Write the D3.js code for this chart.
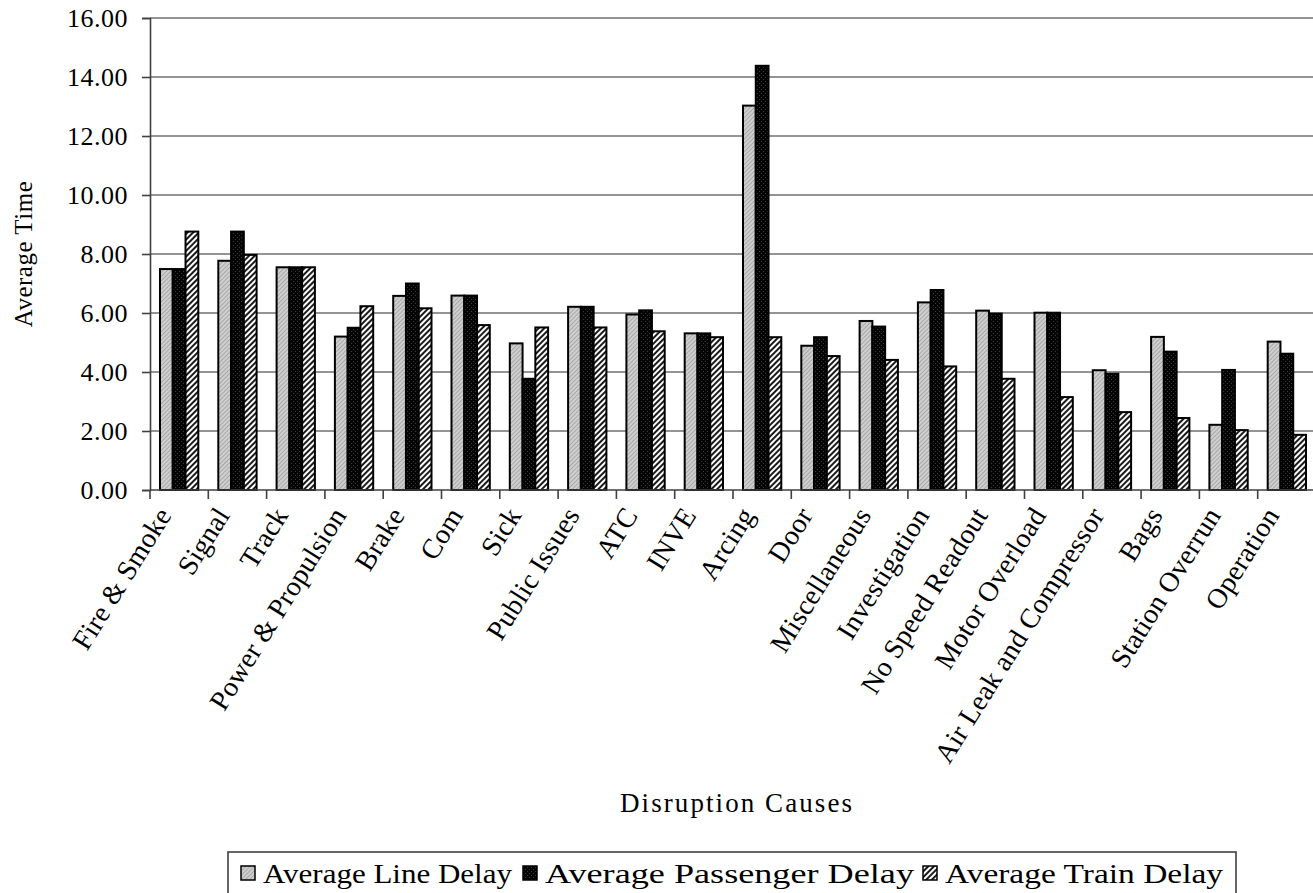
<!DOCTYPE html>
<html>
<head>
<meta charset="utf-8">
<script src="https://cdn.jsdelivr.net/npm/d3@7/dist/d3.min.js"></script>
<style>
  html, body { margin: 0; padding: 0; background: #fff; }
  svg { display: block; }
  text { font-family: "Liberation Serif", "DejaVu Serif", serif; fill: #000; }
</style>
</head>
<body>
<svg id="chart" width="1313" height="893"></svg>
<script>
const categories = ["Fire & Smoke", "Signal", "Track", "Power & Propulsion", "Brake", "Com", "Sick",
  "Public Issues", "ATC", "INVE", "Arcing", "Door", "Miscellaneous", "Investigation",
  "No Speed Readout", "Motor Overload", "Air Leak and Compressor", "Bags", "Station Overrun", "Operation"];
const lineDelay      = [7.49, 7.77, 7.55, 5.20, 6.58, 6.59, 4.97, 6.21, 5.95, 5.31, 13.03, 4.89, 5.73, 6.36, 6.08, 6.01, 4.06, 5.19, 2.21, 5.03];
const passengerDelay = [7.49, 8.76, 7.55, 5.50, 7.00, 6.59, 3.77, 6.21, 6.09, 5.31, 14.38, 5.18, 5.54, 6.78, 5.98, 6.01, 3.94, 4.69, 4.07, 4.62];
const trainDelay     = [8.76, 7.97, 7.55, 6.23, 6.16, 5.59, 5.51, 5.51, 5.38, 5.18, 5.18, 4.54, 4.41, 4.19, 3.77, 3.15, 2.64, 2.44, 2.03, 1.87];
const seriesNames = ["Average Line Delay", "Average Passenger Delay", "Average Train Delay"];
const yTicks = [0, 2, 4, 6, 8, 10, 12, 14, 16];

const series = [lineDelay, passengerDelay, trainDelay];
const svg = d3.select("#chart");

// patterns
const defs = svg.append("defs");
const p1 = defs.append("pattern").attr("id", "pat0").attr("patternUnits", "userSpaceOnUse")
  .attr("width", 3).attr("height", 3).attr("patternTransform", "rotate(45)");
p1.append("rect").attr("width", 3).attr("height", 3).attr("fill", "#cfcfcf");
p1.append("rect").attr("width", 1).attr("height", 3).attr("fill", "#a8a8a8");

const p2 = defs.append("pattern").attr("id", "pat1").attr("patternUnits", "userSpaceOnUse")
  .attr("width", 4).attr("height", 4);
p2.append("rect").attr("width", 4).attr("height", 4).attr("fill", "#050505");
p2.append("rect").attr("x", 1).attr("y", 1).attr("width", 1).attr("height", 1).attr("fill", "#3a3a3a");
p2.append("rect").attr("x", 3).attr("y", 3).attr("width", 1).attr("height", 1).attr("fill", "#3a3a3a");

const p3 = defs.append("pattern").attr("id", "pat2").attr("patternUnits", "userSpaceOnUse")
  .attr("width", 4).attr("height", 4).attr("patternTransform", "rotate(45)");
p3.append("rect").attr("width", 4).attr("height", 4).attr("fill", "#ffffff");
p3.append("rect").attr("width", 2).attr("height", 4).attr("fill", "#1a1a1a");

const fills = ["url(#pat0)", "url(#pat1)", "url(#pat2)"];

const x0 = 150, x1 = 150 + 20 * 58.3;
const yTop = 18, yBot = 490;

const x = d3.scaleBand().domain(categories).range([x0, x1]).paddingInner(0.343).paddingOuter(0.1715);
const xs = d3.scaleBand().domain([0, 1, 2]).range([0, x.bandwidth()]);
const y = d3.scaleLinear().domain([0, 16]).range([yBot, yTop]);

// gridlines
svg.append("g").selectAll("line").data(yTicks.filter(d => d > 0)).join("line")
  .attr("x1", x0).attr("x2", 1313).attr("y1", d => y(d)).attr("y2", d => y(d))
  .attr("stroke", "#707070").attr("stroke-width", 1.6);

// bars
const g = svg.append("g");
categories.forEach((c, i) => {
  series.forEach((s, k) => {
    g.append("rect")
      .attr("x", x(c) + xs(k))
      .attr("y", y(s[i]))
      .attr("width", xs.bandwidth())
      .attr("height", yBot - y(s[i]))
      .attr("fill", fills[k])
      .attr("stroke", "#000").attr("stroke-width", 2);
  });
});

// y axis
const yAxis = d3.axisLeft(y).tickValues(yTicks).tickFormat(d3.format(".2f")).tickSize(8).tickPadding(14);
const ga = svg.append("g").attr("transform", `translate(${x0},0)`).call(yAxis);
ga.select(".domain").attr("stroke", "#404040").attr("stroke-width", 1.6);
ga.selectAll(".tick line").attr("stroke", "#404040").attr("stroke-width", 1.6);
ga.selectAll(".tick text").style("font-size", "26px").attr("letter-spacing", "0.5px")
  .style("font-family", "Liberation Serif");

// x axis line + ticks at boundaries
svg.append("line").attr("x1", x0).attr("x2", 1313).attr("y1", yBot).attr("y2", yBot)
  .attr("stroke", "#404040").attr("stroke-width", 1.6);
svg.append("g").selectAll("line").data(d3.range(0, 21)).join("line")
  .attr("x1", d => x0 + d * x.step()).attr("x2", d => x0 + d * x.step())
  .attr("y1", yBot).attr("y2", yBot + 9)
  .attr("stroke", "#404040").attr("stroke-width", 1.6);

// x labels
svg.append("g").selectAll("text").data(categories).join("text")
  .attr("transform", d => `translate(${x(d) + x.bandwidth() / 2 - 15},${yBot + 20}) rotate(-58)`)
  .attr("text-anchor", "end").attr("dy", "0.35em")
  .style("font-size", "28px").attr("letter-spacing", "0.2px")
  .text(d => d);

// axis titles
svg.append("text").attr("transform", `translate(32,${(yTop + yBot) / 2}) rotate(-90)`)
  .attr("text-anchor", "middle").style("font-size", "25px").attr("letter-spacing", "0.5px")
  .text("Average Time");
svg.append("text").attr("x", 736).attr("y", 812).attr("text-anchor", "middle")
  .style("font-size", "27px").attr("textLength", 232).attr("lengthAdjust", "spacing")
  .text("Disruption Causes");

// legend
const lg = svg.append("g");
lg.append("rect").attr("x", 228).attr("y", 852).attr("width", 1008).attr("height", 60)
  .attr("fill", "#fff").attr("stroke", "#404040").attr("stroke-width", 1.6);
const legendX = [241, 523, 923];
const legendW = [249, 369, 278];
seriesNames.forEach((n, k) => {
  lg.append("rect").attr("x", legendX[k]).attr("y", 866).attr("width", 14).attr("height", 14)
    .attr("fill", fills[k]).attr("stroke", "#000").attr("stroke-width", 1.5);
  lg.append("text").attr("x", legendX[k] + 22).attr("y", 883)
    .style("font-size", "27px").attr("textLength", legendW[k]).attr("lengthAdjust", "spacingAndGlyphs")
    .text(n);
});
</script>
</body>
</html>
